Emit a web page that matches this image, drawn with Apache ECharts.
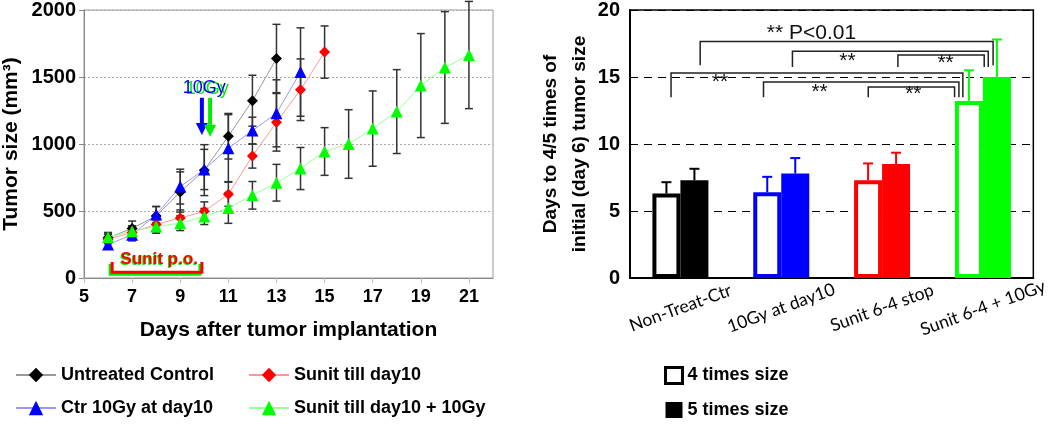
<!DOCTYPE html>
<html>
<head>
<meta charset="utf-8">
<script src="https://cdn.jsdelivr.net/npm/echarts@6/dist/echarts.min.js"></script>
<style>
  html, body { margin: 0; padding: 0; background: #fff; }
  #main { width: 1050px; height: 424px; }
</style>
</head>
<body>
<div id="main"></div>
<script>
// left panel: tumor growth (mm3) by day after implantation
const days = [6, 7, 8, 9, 10, 11, 12, 13, 14, 15, 16, 17, 18, 19, 20, 21];
const xTicks = [5, 7, 9, 11, 13, 15, 17, 19, 21];
const untreated = [300, 370, 463, 642, 805, 1058, 1323, 1638];
const untreatedSd = [40, 55, 70, 150, 190, 170, 190, 255];
const ctr10Gy = [250, 322, 474, 682, 810, 969, 1100, 1229, 1537];
const ctr10GySd = [35, 45, 60, 130, 150, 250, 100, 250, 330];
const sunit = [290, 340, 400, 448, 498, 625, 910, 1162, 1405, 1686];
const sunitSd = [35, 50, 55, 60, 70, 90, 90, 215, 230, 195];
const sunit10Gy = [305, 349, 384, 409, 459, 523, 617, 711, 817, 944, 1000, 1115, 1242, 1436, 1571, 1664];
const sunit10GySd = [30, 40, 50, 55, 60, 115, 103, 137, 157, 178, 256, 281, 313, 388, 417, 400];

// annotations on left panel, in data units
const doseArrows = [[9.9, 1345, 1067], [10.24, 1345, 1054]]; // day, start, tip
const sunitWindow = [[6.17, 9.9, 43, 120]]; // day from, day to, bottom, leg top
const sunitLabel = [[8.13, 140]];
const doseLabel = [[10.0, 1415]];

// right panel: days to reach 4x / 5x initial size
const groups = ["Non-Treat-Ctr", "10Gy at day10", "Sunit 6-4 stop", "Sunit 6-4 + 10Gy"];
const groupColors = ["#000000", "#0000ff", "#ff0000", "#00ff00"];
const times4 = [6.3, 6.4, 7.3, 13.2];
const times4Sd = [0.85, 1.15, 1.25, 2.3];
const times5 = [7.3, 7.8, 8.5, 15.0];
const times5Sd = [0.85, 1.15, 0.85, 2.8];

// significance brackets: x from, x to (category units), bar height, leg end
const brackets = [
  [0.196, 3.101, 17.64, 15.87],
  [1.111, 3.053, 16.92, 15.74],
  [2.157, 3.013, 16.65, 15.74],
  [-0.093, 2.801, 15.3, 13.48],
  [0.824, 2.762, 14.63, 13.48],
  [1.863, 2.719, 14.26, 13.48]
];
const bracketLabels = [[1.3, 18.25], [1.657, 16.2], [2.63, 16.0], [0.392, 14.6], [1.38, 13.9], [2.31, 13.7]];
const bracketTexts = ["** P<0.01", "**", "**", "**", "**", "**"];

const FONT = "Liberation Sans, Arial, sans-serif";

const pairs = (vals) => vals.map((v, i) => [days[i], v]);
const triples = (vals, sd) => vals.map((v, i) => [days[i], v, sd[i]]);

const errorBars = (color, width, cap) => (params, api) => {
  const x = api.value(0);
  const y = api.value(1);
  const e = api.value(2);
  const top = api.coord([x, y + e]);
  const bot = api.coord([x, y - e]);
  const st = { stroke: color, lineWidth: width };
  return {
    type: "group",
    children: [
      { type: "line", shape: { x1: top[0], y1: top[1], x2: bot[0], y2: bot[1] }, style: st },
      { type: "line", shape: { x1: top[0] - cap, y1: top[1], x2: top[0] + cap, y2: top[1] }, style: st },
      { type: "line", shape: { x1: bot[0] - cap, y1: bot[1], x2: bot[0] + cap, y2: bot[1] }, style: st }
    ]
  };
};

const lineSeries = (name, vals, symbol, size, color, lineColor) => ({
  name,
  type: "line",
  xAxisIndex: 0,
  yAxisIndex: 0,
  data: pairs(vals),
  symbol,
  symbolSize: size,
  showAllSymbol: true,
  itemStyle: { color },
  lineStyle: { color: lineColor, width: 1 },
  z: 5
});

const errSeries = (vals, sd) => ({
  type: "custom",
  xAxisIndex: 0,
  yAxisIndex: 0,
  data: triples(vals, sd),
  renderItem: errorBars("#333", 1.5, 4),
  z: 3,
  silent: true
});

const barErr = (vals, sd, offset) => ({
  type: "custom",
  xAxisIndex: 1,
  yAxisIndex: 1,
  data: vals.map((v, i) => [i, v, sd[i]]),
  renderItem: (params, api) => {
    const i = api.value(0);
    const v = api.value(1);
    const e = api.value(2);
    const base = api.coord([i, v]);
    const top = api.coord([i, v + e]);
    const x = base[0] + offset;
    const st = { stroke: groupColors[i], lineWidth: 2 };
    return {
      type: "group",
      children: [
        { type: "line", shape: { x1: x, y1: base[1], x2: x, y2: top[1] }, style: st },
        { type: "line", shape: { x1: x - 5, y1: top[1], x2: x + 5, y2: top[1] }, style: st }
      ]
    };
  },
  z: 1,
  silent: true
});

const legendText = { fontFamily: FONT, fontSize: 18, fontWeight: "bold", color: "#000" };

const chart = echarts.init(document.getElementById("main"));

chart.setOption({
  animation: false,
  backgroundColor: "#fff",
  textStyle: { fontFamily: FONT },
  grid: [
    { left: 80, top: 10, width: 413, height: 268, show: true, borderColor: "#999", borderWidth: 1 },
    { left: 630, top: 7, width: 408, height: 271, show: true, borderColor: "#000", borderWidth: 1.5 }
  ],
  legend: [
    {
      left: 15, top: 366, padding: 0, orient: "vertical", itemWidth: 40, itemHeight: 18, itemGap: 15,
      textStyle: legendText,
      data: ["Untreated Control", "Ctr 10Gy at day10"]
    },
    {
      left: 248, top: 366, padding: 0, orient: "vertical", itemWidth: 40, itemHeight: 18, itemGap: 15,
      textStyle: legendText,
      data: ["Sunit till day10", "Sunit till day10 + 10Gy"]
    },
    {
      left: 664, top: 366, padding: 0, orient: "vertical", itemWidth: 17, itemHeight: 16, itemGap: 16,
      textStyle: legendText,
      data: [
        { name: "4 times size", icon: "rect", itemStyle: { color: "#fff", borderColor: "#000", borderWidth: 3 } },
        { name: "5 times size", icon: "rect", itemStyle: { color: "#000" } }
      ]
    }
  ],
  xAxis: [
    {
      type: "value", gridIndex: 0, min: 5, max: 22, interval: 1,
      name: "Days after tumor implantation", nameLocation: "middle", nameGap: 42,
      nameTextStyle: { fontFamily: FONT, fontSize: 21, fontWeight: "bold", color: "#000" },
      axisLine: { onZero: false, lineStyle: { color: "#888", width: 1 } },
      axisTick: { customValues: xTicks, length: 5, lineStyle: { color: "#bbb" } },
      axisLabel: {
        customValues: xTicks, margin: 10,
        fontFamily: FONT, fontSize: 18, fontWeight: "bold", color: "#000",
        formatter: (v) => (v % 2 ? String(v) : "")
      },
      splitLine: { show: false }
    },
    {
      type: "category", gridIndex: 1, data: groups,
      axisLine: { onZero: false, lineStyle: { color: "#000", width: 2 } },
      axisTick: { show: false },
      axisLabel: {
        rotate: 20, align: "center", verticalAlign: "middle", margin: 30,
        fontFamily: "Lato, Open Sans, sans-serif", fontSize: 17.5, color: "#000"
      }
    },
    { type: "value", gridIndex: 1, min: -0.5, max: 3.5, show: false }
  ],
  yAxis: [
    {
      type: "value", gridIndex: 0, min: 0, max: 2000, interval: 500,
      name: "Tumor size (mm³)", nameLocation: "middle", nameGap: 62,
      nameTextStyle: { fontFamily: FONT, fontSize: 21, fontWeight: "bold", color: "#000" },
      axisLine: { show: true, onZero: false, lineStyle: { color: "#888", width: 1 } },
      axisTick: { show: true, length: 5, lineStyle: { color: "#888" } },
      axisLabel: {
        margin: 8, fontFamily: FONT, fontSize: 20, fontWeight: "bold", color: "#000",
        formatter: (v) => String(v)
      },
      splitLine: { lineStyle: { color: "#aaa", type: [2, 2], width: 1 } }
    },
    {
      type: "value", gridIndex: 1, min: 0, max: 20, interval: 5,
      name: "Days to 4/5 times of\ninitial (day 6) tumor size", nameLocation: "middle", nameGap: 30,
      nameTextStyle: { fontFamily: FONT, fontSize: 19, fontWeight: "bold", color: "#000", lineHeight: 29 },
      axisLine: { show: true, onZero: false, lineStyle: { color: "#000", width: 2 } },
      axisTick: { show: false },
      axisLabel: { margin: 10, fontFamily: FONT, fontSize: 20, fontWeight: "bold", color: "#000" },
      splitLine: { lineStyle: { color: "#000", type: [8, 6], width: 1.2 } }
    }
  ],
  series: [
    errSeries(untreated, untreatedSd),
    errSeries(ctr10Gy, ctr10GySd),
    errSeries(sunit, sunitSd),
    errSeries(sunit10Gy, sunit10GySd),
    lineSeries("Untreated Control", untreated, "diamond", 11, "#000", "#999"),
    lineSeries("Sunit till day10", sunit, "diamond", 11, "#ff0000", "#ff9999"),
    lineSeries("Ctr 10Gy at day10", ctr10Gy, "triangle", 12, "#0000ff", "#9999ff"),
    lineSeries("Sunit till day10 + 10Gy", sunit10Gy, "triangle", 12, "#00ff00", "#99ff99"),
    {
      // 10Gy arrows
      type: "custom", xAxisIndex: 0, yAxisIndex: 0, data: doseArrows, silent: true, z: 6,
      renderItem: (params, api) => {
        const color = params.dataIndex === 0 ? "#0000ff" : "#00ee00";
        const start = api.coord([api.value(0), api.value(1)]);
        const tip = api.coord([api.value(0), api.value(2)]);
        const headTop = tip[1] - 12;
        return {
          type: "group",
          children: [
            { type: "rect", shape: { x: start[0] - 2, y: start[1], width: 4, height: headTop - start[1] }, style: { fill: color } },
            { type: "polygon", shape: { points: [[tip[0] - 6, headTop], [tip[0] + 6, headTop], [tip[0], tip[1]]] }, style: { fill: color } }
          ]
        };
      }
    },
    {
      type: "custom", xAxisIndex: 0, yAxisIndex: 0, data: doseLabel, silent: true, z: 6,
      renderItem: (params, api) => {
        const p = api.coord([api.value(0), api.value(1)]);
        const st = (fill) => ({ text: "10Gy", fill, font: "18px " + FONT, align: "center", verticalAlign: "middle" });
        return {
          type: "group",
          children: [
            { type: "text", x: p[0] + 3, y: p[1] + 1, style: st("#00ee00") },
            { type: "text", x: p[0], y: p[1], style: st("#0000ff") }
          ]
        };
      }
    },
    {
      type: "custom", xAxisIndex: 0, yAxisIndex: 0, data: sunitWindow, silent: true, z: 6,
      renderItem: (params, api) => {
        const a = api.coord([api.value(0), api.value(3)]);
        const b = api.coord([api.value(0), api.value(2)]);
        const c = api.coord([api.value(1), api.value(2)]);
        const d = api.coord([api.value(1), api.value(3)]);
        const pts = (dx, dy) => [a, b, c, d].map((p) => [p[0] + dx, p[1] + dy]);
        return {
          type: "group",
          children: [
            { type: "polyline", shape: { points: pts(-2, 2) }, style: { stroke: "#00ee00", lineWidth: 3, fill: null } },
            { type: "polyline", shape: { points: pts(0, 0) }, style: { stroke: "#ff0000", lineWidth: 3, fill: null } }
          ]
        };
      }
    },
    {
      type: "custom", xAxisIndex: 0, yAxisIndex: 0, data: sunitLabel, silent: true, z: 6,
      renderItem: (params, api) => {
        const p = api.coord([api.value(0), api.value(1)]);
        const st = (fill) => ({ text: "Sunit p.o.", fill, font: "bold 17px " + FONT, align: "center", verticalAlign: "middle" });
        return {
          type: "group",
          children: [
            { type: "text", x: p[0] - 1, y: p[1] + 1, style: st("#00ee00") },
            { type: "text", x: p[0], y: p[1], style: st("#ff0000") }
          ]
        };
      }
    },
    {
      name: "4 times size", type: "bar", xAxisIndex: 1, yAxisIndex: 1,
      barWidth: 28, barGap: "0%",
      itemStyle: { color: "#fff", borderColor: "#000", borderWidth: 4 },
      data: times4.map((v, i) => ({ value: v, itemStyle: { color: "#fff", borderColor: groupColors[i], borderWidth: 4 } })),
      z: 2
    },
    {
      name: "5 times size", type: "bar", xAxisIndex: 1, yAxisIndex: 1,
      barWidth: 28, barGap: "0%",
      itemStyle: { color: "#000" },
      data: times5.map((v, i) => ({ value: v, itemStyle: { color: groupColors[i] } })),
      z: 2
    },
    barErr(times4, times4Sd, -14),
    barErr(times5, times5Sd, 14),
    {
      type: "custom", xAxisIndex: 2, yAxisIndex: 1, data: brackets, silent: true, z: 4,
      renderItem: (params, api) => {
        const x1 = api.value(0), x2 = api.value(1), top = api.value(2), leg = api.value(3);
        return {
          type: "polyline",
          shape: { points: [api.coord([x1, leg]), api.coord([x1, top]), api.coord([x2, top]), api.coord([x2, leg])] },
          style: { stroke: "#222", lineWidth: 1.5, fill: null }
        };
      }
    },
    {
      type: "custom", xAxisIndex: 2, yAxisIndex: 1, data: bracketLabels, silent: true, z: 4,
      renderItem: (params, api) => {
        const p = api.coord([api.value(0), api.value(1)]);
        return {
          type: "text", x: p[0], y: p[1],
          style: { text: bracketTexts[params.dataIndex], fill: "#111", font: "21px " + FONT, align: "center", verticalAlign: "middle" }
        };
      }
    }
  ]
});
</script>
</body>
</html>
